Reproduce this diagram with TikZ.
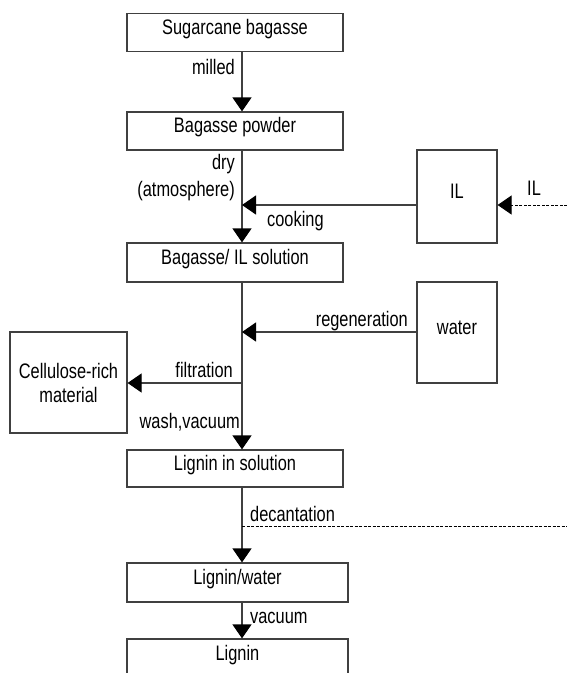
\documentclass[tikz,border=0pt]{standalone}
\usepackage{fontspec}
\setmainfont{Liberation Sans}[FakeStretch=0.78]
\usetikzlibrary{arrows.meta}
\begin{document}
\begin{tikzpicture}[x=1pt,y=-1pt,
  every node/.style={font=\fontsize{21}{24}\selectfont, text=black},
  box/.style={draw=black!75, line width=1.2pt, inner sep=0pt, text height=14pt, text depth=11pt},
  cbox/.style={draw=black!75, line width=1.2pt, inner sep=0pt, align=center},
  ln/.style={draw=black!75, line width=1.2pt},
  arr/.style={ln, -{Triangle[width=19pt,length=14pt,color=black,fill=black]}},
  dsh/.style={dash pattern=on 3pt off 1.5pt, line width=1pt, draw=black},
  lbl/.style={inner sep=0pt}]
\useasboundingbox (0,0) rectangle (567,673);
\clip (0,0) rectangle (567,673);
% boxes
\node[box, minimum width=216pt, minimum height=38pt] (b1) at (235,32.5) {Sugarcane bagasse};
\node[box, minimum width=216pt, minimum height=38pt] (b2) at (235,131) {Bagasse powder};
\node[box, minimum width=216pt, minimum height=39pt] (b3) at (235,262.5) {Bagasse/ IL solution};
\node[box, minimum width=80pt, minimum height=93pt] (il) at (457,196.5) {IL};
\node[box, minimum width=80pt, minimum height=101pt] (water) at (457,332.5) {water};
\node[cbox, minimum width=117pt, minimum height=101pt] (cell) at (68.5,382.5) {Cellulose-rich\\material};
\node[box, minimum width=216pt, minimum height=37pt] (b7) at (235,468.5) {Lignin in solution};
\node[box, minimum width=221pt, minimum height=39pt] (b8) at (237.5,582.5) {Lignin/water};
\node[box, minimum width=221pt, minimum height=40pt] (b9) at (237.5,659) {Lignin};
% spine and junctions
\coordinate (s) at (242,0);
\coordinate (jIL) at (242,205);
\coordinate (ILin) at (567,205);
\coordinate (jW) at (242,332);
\coordinate (jF) at (242,383);
\coordinate (jD) at (242,526);
\coordinate (dEnd) at (567,526);
% connectors
\draw[arr] (b1.south -| s) -- (b2.north -| s);
\draw[arr] (b2.south -| s) -- (b3.north -| s);
\draw[arr] (jIL -| il.west) -- (jIL);
\draw[arr, dsh] (ILin) -- (ILin -| il.east);
\draw[arr] (b3.south -| s) -- (b7.north -| s);
\draw[arr] (jW -| water.west) -- (jW);
\draw[arr] (jF) -- (jF -| cell.east);
\draw[arr] (b7.south -| s) -- (b8.north -| s);
\draw[ln, dsh] (jD) -- (dEnd);
\draw[arr] (b8.south -| s) -- (b9.north -| s);
% labels
\node[lbl, anchor=base east] (lmilled) at (235,74) {milled};
\node[lbl, anchor=base east] (ldry) at (235,169) {dry};
\node[lbl, anchor=base east] (latm) at (235,196) {(atmosphere)};
\node[lbl, anchor=base west] (lcook) at (267,226) {cooking};
\node[lbl, anchor=base west] (lil) at (527,195) {IL};
\node[lbl, anchor=base east] (lregen) at (408,326) {regeneration};
\node[lbl, anchor=base east] (lfilt) at (233,377) {filtration};
\node[lbl, anchor=base east] (lwash) at (240,428) {wash,vacuum};
\node[lbl, anchor=base west] (ldec) at (250,521) {decantation};
\node[lbl, anchor=base west] (lvac) at (250,623) {vacuum};
\end{tikzpicture}
\end{document}
